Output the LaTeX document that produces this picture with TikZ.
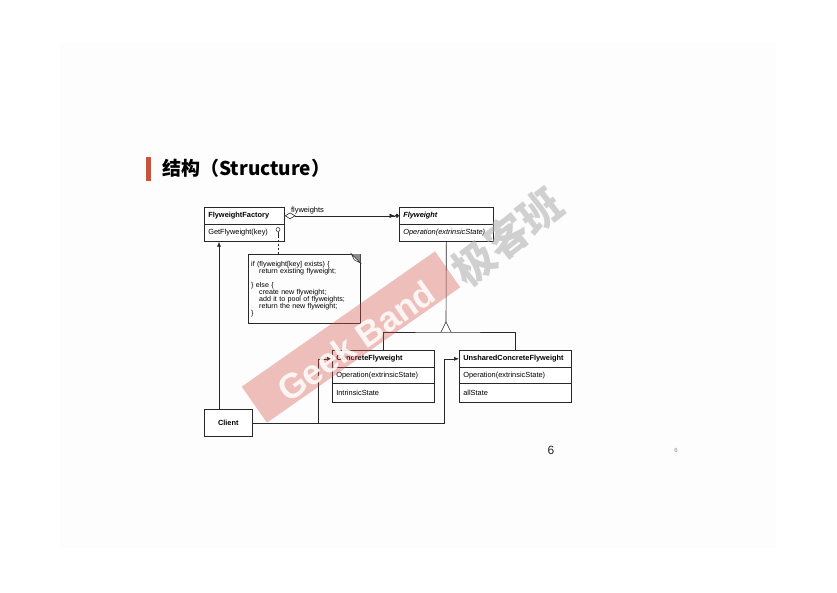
\documentclass[tikz,border=0pt]{standalone}
\usepackage{fontspec}
\setmainfont{Liberation Sans}
\newfontfamily\cjk{Noto Sans CJK SC}
\usetikzlibrary{arrows.meta,calc}
\definecolor{linec}{RGB}{40,40,40}
\definecolor{barred}{RGB}{196,84,64}
\definecolor{wmred}{RGB}{214,80,70}
\definecolor{slidebg}{RGB}{253,253,253}
\begin{document}
\begin{tikzpicture}[x=1pt,y=-1pt,
  cls/.style={draw=linec, line width=0.6pt, fill=white, anchor=north west, inner xsep=4pt, inner ysep=0pt, align=left, font=\fontsize{7.4}{8}\selectfont},
  hdr/.style={cls, font=\fontsize{7.4}{8}\selectfont\bfseries},
  conn/.style={draw=linec, line width=0.6pt},
  tip/.style={-{Latex[length=5pt,width=4pt]}}
]
\useasboundingbox (0,0) rectangle (837,592);
% slide background
\fill[slidebg] (60,42) rectangle (776,548);
% title
\fill[barred] (146,157) rectangle (151,181);
\node[anchor=west, inner sep=0pt, font=\cjk\bfseries\fontsize{19}{21}\selectfont] (title) at (162,168) {结构（Structure）};
% FlyweightFactory
\node[hdr, text width=72pt, minimum height=17pt] (ffh) at (204,207) {FlyweightFactory};
\node[cls, text width=72pt, minimum height=17pt] (ffb) at (204,224) {GetFlyweight(key)};
% Flyweight
\node[hdr, text width=86pt, minimum height=17pt, font=\fontsize{7.4}{8}\selectfont\bfseries\itshape] (fwh) at (399,207) {Flyweight};
\node[cls, text width=86pt, minimum height=17pt, font=\fontsize{7.4}{8}\selectfont\itshape] (fwb) at (399,224) {Operation(extrinsicState)};
% ConcreteFlyweight
\node[hdr, text width=94pt, minimum height=17pt] (cfh) at (332,350) {ConcreteFlyweight};
\node[cls, text width=94pt, minimum height=16pt] (cfo) at (332,367) {Operation(extrinsicState)};
\node[cls, text width=94pt, minimum height=19pt] (cfs) at (332,383) {IntrinsicState};
% UnsharedConcreteFlyweight
\node[hdr, text width=104pt, minimum height=17pt] (uch) at (459,350) {UnsharedConcreteFlyweight};
\node[cls, text width=104pt, minimum height=16pt] (uco) at (459,367) {Operation(extrinsicState)};
\node[cls, text width=104pt, minimum height=19pt] (ucs) at (459,383) {allState};
% Client
\node[hdr, text width=40pt, minimum height=27pt, align=center] (client) at (204,409) {Client};
% note
\node[anchor=north west, minimum width=112pt, minimum height=69pt, text width=106pt, inner xsep=3pt, inner ysep=0pt, align=left, font=\fontsize{7.1}{7}\selectfont] (note) at (248,254)
{if (flyweight[key] exists) \{\\
\hspace*{8pt}return existing flyweight;\\[7pt]
\} else \{\\
\hspace*{8pt}create new flyweight;\\
\hspace*{8pt}add it to pool of flyweights;\\
\hspace*{8pt}return the new flyweight;\\
\}};
\draw[conn] (note.north west) rectangle (note.south east);
\fill[black!45] (note.north east) -- ($(note.north east)+(-9,0)$) -- ($(note.north east)+(0,9)$) -- cycle;
\draw[conn, fill=white, line width=0.5pt] ($(note.north east)+(-9,0)$) -- ($(note.north east)+(0,9)$) -- ($(note.north east)+(-6,6)$) -- cycle;
% lollipop and dashed link
\node[draw=linec, line width=0.5pt, circle, inner sep=0pt, minimum size=4pt] (lol) at (278,229.5) {};
\draw[conn, line width=0.5pt] (lol.south) -- ++(0,4) coordinate (lolend);
\draw[conn, dashed, dash pattern=on 2pt off 2pt] (lolend) -- (lolend |- note.north);
% association
\draw[conn, {Diamond[open,length=11pt,width=6.5pt]}-{Latex[length=5.5pt,width=4.5pt]Circle[length=4pt]}] (ffh.east) -- node[above, pos=0.2, font=\fontsize{7.5}{8}\selectfont, inner sep=1.5pt] {flyweights} (fwh.west);
% inheritance
\coordinate (hub) at (446,332);
\draw[conn] (cfh.north) |- (hub) -| (uch.north);
\draw[conn] (fwb.south) -- ($(hub)+(0,-10)$);
\draw[conn, fill=white] ($(hub)+(-5,0)$) -- ($(hub)+(0,-10)$) -- ($(hub)+(5,0)$);
% client links
\draw[conn, tip] ([xshift=15pt]client.north west) -- ([xshift=15pt]ffb.south west);
\draw[conn, tip] (client.east) -| ([xshift=-14pt]cfh.west) -- (cfh.west);
\draw[conn, tip] (client.east) -| ([xshift=-15pt]uch.west) -- (uch.west);
% page numbers
\node[font=\fontsize{12}{14}\selectfont, text=black!85] (pg) at (551,450) {6};
\node[font=\fontsize{6}{7}\selectfont, text=black!45] (pgs) at (676,450) {6};
% watermarks
\node[fill=wmred, opacity=0.36, rotate=35, minimum width=236pt, minimum height=44pt, inner sep=0pt] (band) at (351,337) {};
\node[rotate=35, text=white, opacity=0.85, font=\fontsize{35}{36}\selectfont\bfseries, inner sep=0pt] (gb) at (356,341) {Geek Band};
\node[rotate=38, text=black!30, opacity=0.6, font=\cjk\bfseries\fontsize{42}{44}\selectfont, inner sep=0pt] (jkb) at (507,237) {极客班};
\end{tikzpicture}
\end{document}
